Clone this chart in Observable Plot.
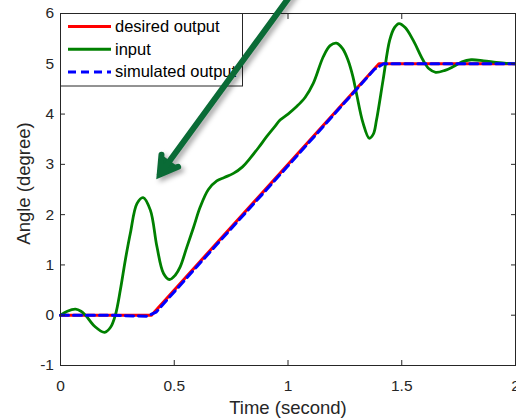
<!DOCTYPE html>
<html>
<head>
<meta charset="utf-8">
<script src="https://cdn.jsdelivr.net/npm/d3@7"></script>
<script src="https://cdn.jsdelivr.net/npm/@observablehq/plot@0.6"></script>
<style>
  html, body { margin: 0; padding: 0; background: #fff; overflow: hidden; }
  #chart svg { display: block; }
</style>
</head>
<body>
<div id="chart"></div>
<script>
// Reference trajectory: hold, ramp 0 -> 5 degrees, hold
const desiredT = [0, 0.4, 1.4, 2];
const desiredV = [0, 0, 5, 5];

// Simulated response of the model (tracks the reference closely)
const simT = [0, 0.2, 0.38, 0.42, 0.6, 1.0, 1.38, 1.42, 1.6, 2];
const simV = [0, 0, -0.02, 0.06, 0.97, 2.97, 4.89, 5.0, 5.0, 5.0];

// Shaped input signal
const inputT = [0, 0.03, 0.066, 0.09, 0.11, 0.15, 0.194, 0.22, 0.241, 0.263, 0.285, 0.307, 0.336, 0.363,
  0.395, 0.424, 0.453, 0.479, 0.505, 0.526, 0.555, 0.585, 0.614, 0.65, 0.687, 0.72, 0.76, 0.8, 0.833,
  0.87, 0.906, 0.94, 0.965, 1.0, 1.038, 1.075, 1.111, 1.155, 1.185, 1.213, 1.24, 1.264, 1.285, 1.301,
  1.33, 1.357, 1.375, 1.389, 1.418, 1.447, 1.468, 1.488, 1.515, 1.55, 1.594, 1.62, 1.649, 1.69, 1.725,
  1.765, 1.805, 1.86, 1.915, 1.96, 2.0];
const inputV = [0, 0.08, 0.12, 0.08, 0.0, -0.22, -0.34, -0.24, 0, 0.5, 1.1, 1.63, 2.22, 2.34,
  2.09, 1.36, 0.83, 0.71, 0.8, 0.96, 1.35, 1.75, 2.15, 2.5, 2.67, 2.74, 2.82, 2.95, 3.12,
  3.33, 3.55, 3.74, 3.88, 4.0, 4.15, 4.33, 4.61, 5.14, 5.36, 5.41, 5.3, 5.07, 4.75, 4.41,
  3.82, 3.52, 3.6, 3.88, 4.68, 5.47, 5.72, 5.8, 5.72, 5.47, 5.07, 4.9, 4.83, 4.87, 4.94,
  5.04, 5.08, 5.06, 5.03, 5.01, 5.0];

const seriesNames = ["desired output", "input", "simulated output"];
const seriesColors = ["#ff0000", "#008000", "#0000ff"];
const seriesDash = [null, null, "8,5"];

const xTicks = [0, 0.5, 1, 1.5, 2];
const yTicks = [-1, 0, 1, 2, 3, 4, 5, 6];
const xLabel = "Time (second)";
const yLabel = "Angle (degree)";

// Annotation arrow (tail above the plot, head pointing at the first input peak)
const arrowTail = [1.044, 6.565];
const arrowHead = [0.436, 2.797];

const toRows = (ts, vs) => ts.map((t, i) => ({t, v: vs[i]}));
const desired = toRows(desiredT, desiredV);
const simulated = toRows(simT, simV);
const input = toRows(inputT, inputV);

const ink = "#262626";
const font = "'Liberation Sans', Arial, Helvetica, sans-serif";

const chart = Plot.plot({
  width: 516,
  height: 420,
  marginLeft: 60,
  marginRight: 1,
  marginTop: 13,
  marginBottom: 55,
  style: {color: ink, fontSize: "15.5px", fontFamily: font, background: "#fff", overflow: "visible"},
  x: {domain: [0, 2]},
  y: {domain: [-1, 6]},
  marks: [
    Plot.line(desired, {x: "t", y: "v", stroke: seriesColors[0], strokeWidth: 3}),
    Plot.line(input, {x: "t", y: "v", stroke: seriesColors[1], strokeWidth: 2.8, curve: "catmull-rom"}),
    Plot.line(simulated, {x: "t", y: "v", stroke: seriesColors[2], strokeWidth: 3, strokeDasharray: seriesDash[2]}),
    Plot.frame({stroke: ink, strokeWidth: 1}),
    Plot.axisX(xTicks, {anchor: "bottom", tickSize: -5, tickPadding: 19.5, tickFormat: d => String(d), label: null}),
    Plot.axisX(xTicks, {anchor: "top", tickSize: -5, tickFormat: () => "", label: null}),
    Plot.axisY(yTicks, {anchor: "left", tickSize: -5, tickPadding: 11.5, tickFormat: d => String(d), label: null}),
    Plot.axisY(yTicks, {anchor: "right", tickSize: -5, tickFormat: () => "", label: null}),
    Plot.text([xLabel], {frameAnchor: "bottom", lineAnchor: "middle", dy: 43, text: d => d, fontSize: 18.5, fill: ink}),
    Plot.text([yLabel], {frameAnchor: "left", textAnchor: "middle", rotate: -90, dx: -36, dy: -6, text: d => d, fontSize: 18.5, fill: ink}),
    Plot.arrow([{x1: arrowTail[0], y1: arrowTail[1], x2: arrowHead[0], y2: arrowHead[1]}], {
      x1: "x1", y1: "y1", x2: "x2", y2: "y2",
      stroke: "#0a6b36", fill: "#0a6b36", strokeWidth: 6,
      headLength: 5, headAngle: 62, strokeLinejoin: "miter", strokeMiterlimit: 6
    })
  ]
});

document.getElementById("chart").appendChild(chart);

// Legend box in the upper-left corner of the axes
const xs = chart.scale("x"), ys = chart.scale("y");
const boxLeft = Math.round(xs.apply(0)) + 0.5;
const boxTop = Math.round(ys.apply(6)) + 0.5;
const svg = d3.select(chart);
const legend = svg.append("g").attr("class", "legend");
legend.append("rect")
  .attr("x", boxLeft).attr("y", boxTop)
  .attr("width", 182).attr("height", 72.5)
  .attr("fill", "#fff").attr("stroke", ink).attr("stroke-width", 1);
seriesNames.forEach((name, i) => {
  const cy = boxTop + 13 + i * 22.7;
  legend.append("line")
    .attr("x1", boxLeft + 7.5).attr("x2", boxLeft + 50.5)
    .attr("y1", cy).attr("y2", cy)
    .attr("stroke", seriesColors[i]).attr("stroke-width", 3)
    .attr("stroke-dasharray", seriesDash[i]);
  legend.append("text")
    .attr("x", boxLeft + 54.5).attr("y", cy + 1)
    .attr("text-anchor", "start")
    .attr("dominant-baseline", "middle")
    .attr("fill", "#000").attr("font-size", "16.5px").attr("font-family", font)
    .text(name);
});

// Arrow on top of everything, with a soft drop shadow
const arrowGroup = chart.querySelector('[aria-label="arrow"]');
if (arrowGroup) {
  arrowGroup.style.filter = "drop-shadow(3px 3px 2.5px rgba(0,0,0,0.35))";
  chart.appendChild(arrowGroup);
}
</script>
</body>
</html>
